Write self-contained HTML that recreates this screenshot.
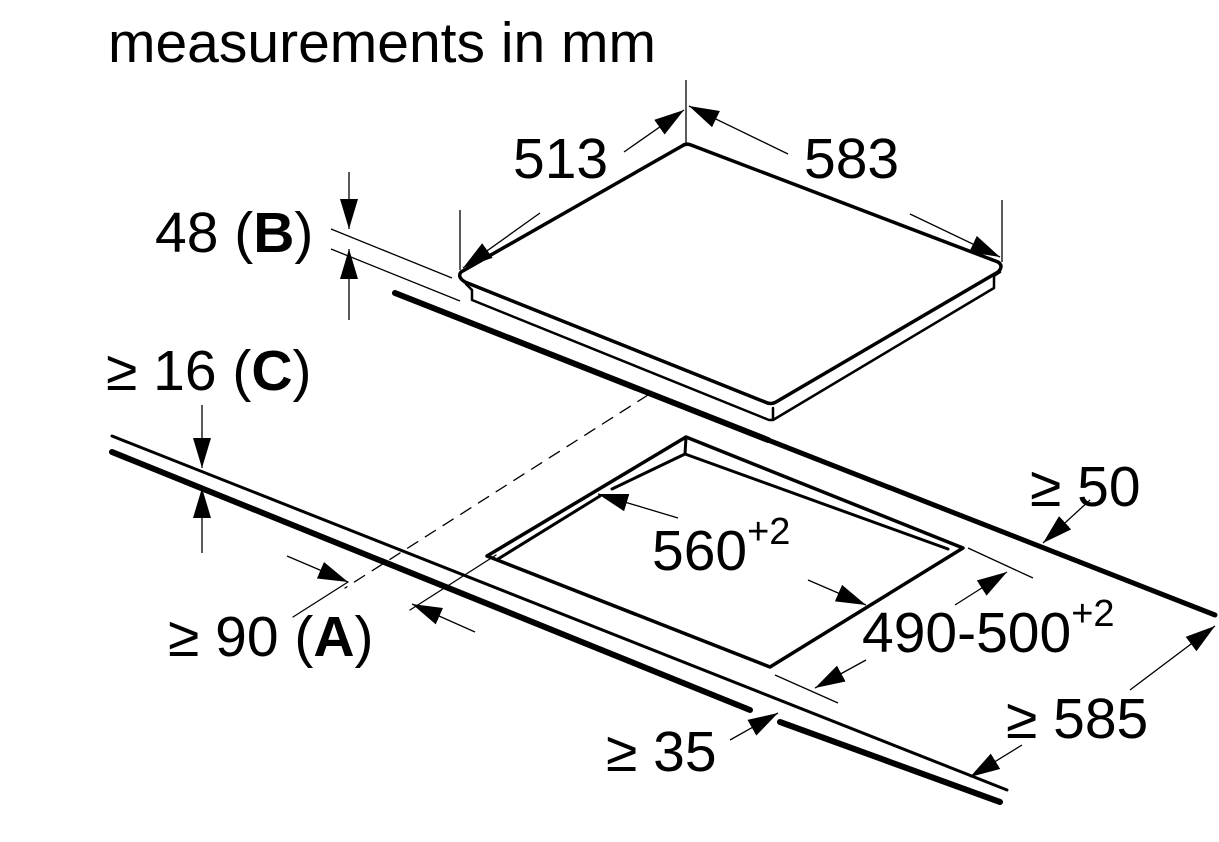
<!DOCTYPE html>
<html><head><style>
html,body{margin:0;padding:0;background:#fff;}
svg{display:block;}
text{font-family:"Liberation Sans",Arial,sans-serif;fill:#000;}
</style></head><body>
<svg width="1219" height="842" viewBox="0 0 1219 842" xmlns="http://www.w3.org/2000/svg">
<defs>
<marker id="a" viewBox="0 0 30 18" refX="30" refY="9" markerWidth="30" markerHeight="18" markerUnits="userSpaceOnUse" orient="auto">
<path d="M0,0 L30,9 L0,18 Z" fill="#000"/></marker>
</defs>
<g fill="none" stroke="#000" stroke-linecap="round" stroke-linejoin="round">
<path d="M461,272 L682,146 Q686,143 691,145 L998,262 Q1004,266 998,272 L776,402 Q771,405 765,402 L465,282 Q457,277 461,272 Z" stroke-width="3.5"/>
<path d="M466,284 L472,290 L472,300 L769,420 L773,420 L773,408 M773,420 L994,288 L994,276 L1000,272" stroke-width="2.5"/>
<path d="M395,293 L768,440" stroke-width="6"/>
<path d="M768,440 L1215,615" stroke-width="5"/>
<path d="M112,436 L1007,790" stroke-width="3"/>
<path d="M112,452 L750,710 M780,722 L1000,802" stroke-width="6"/>
<path d="M648,395 L345,588" stroke-width="1.3" stroke-dasharray="12,9"/>
<path d="M496,555 L410,610" stroke-width="1.3"/>
<path d="M348,582 L293,617" stroke-width="1.3"/>
<path d="M487,556 L686,437 L963,548 L770,667 Z" stroke-width="3.5"/>
<path d="M498,559 L600,496 M612,489 L685,454 L948,549 M686,437 L685,454" stroke-width="3"/>
</g>
<g stroke="#000" stroke-width="1.3" fill="none">
<line x1="686" y1="80" x2="686" y2="145"/>
<line x1="624" y1="152" x2="684" y2="110" marker-end="url(#a)"/>
<line x1="540" y1="213" x2="463" y2="268" marker-end="url(#a)" />
<line x1="460" y1="210" x2="460" y2="270"/>
<line x1="788" y1="154" x2="689" y2="106" marker-end="url(#a)"/>
<line x1="910" y1="214" x2="1000" y2="257" marker-end="url(#a)"/>
<line x1="1002" y1="200" x2="1002" y2="262"/>
<line x1="331" y1="229" x2="452" y2="278"/>
<line x1="331" y1="249" x2="460" y2="301"/>
<line x1="349" y1="172" x2="349" y2="229" marker-end="url(#a)"/>
<line x1="349" y1="320" x2="349" y2="249" marker-end="url(#a)"/>
<line x1="202" y1="405" x2="202" y2="468" marker-end="url(#a)"/>
<line x1="202" y1="553" x2="202" y2="488" marker-end="url(#a)"/>
<line x1="287" y1="556" x2="348" y2="582" marker-end="url(#a)"/>
<line x1="475" y1="632" x2="412" y2="604" marker-end="url(#a)"/>
<line x1="678" y1="518" x2="598" y2="494" marker-end="url(#a)"/>
<line x1="808" y1="580" x2="866" y2="605" marker-end="url(#a)"/>
<line x1="968" y1="548" x2="1033" y2="578"/>
<line x1="775" y1="675" x2="838" y2="703"/>
<line x1="955" y1="605" x2="1007" y2="572" marker-end="url(#a)" />
<line x1="866" y1="660" x2="815" y2="688" marker-end="url(#a)"/>
<line x1="1090" y1="500" x2="1043" y2="543" marker-end="url(#a)"/>
<line x1="1130" y1="690" x2="1215" y2="626" marker-end="url(#a)"/>
<line x1="1022" y1="745" x2="970" y2="777" marker-end="url(#a)"/>
<line x1="730" y1="740" x2="778" y2="713" marker-end="url(#a)"/>
</g>
<g font-size="57">
<text x="108" y="62" font-size="57">measurements in mm</text>
<text x="513" y="178">513</text>
<text x="804" y="178">583</text>
<text x="155" y="252">48 (<tspan font-weight="bold">B</tspan>)</text>
<text x="106" y="390">≥ 16 (<tspan font-weight="bold">C</tspan>)</text>
<text x="168" y="656">≥ 90 (<tspan font-weight="bold">A</tspan>)</text>
<text x="652" y="570">560<tspan font-size="38" dy="-26">+2</tspan></text>
<text x="862" y="652">490-500<tspan font-size="38" dy="-26">+2</tspan></text>
<text x="1030" y="506">≥ 50</text>
<text x="1006" y="738">≥ 585</text>
<text x="606" y="771">≥ 35</text>
</g>
</svg>
</body></html>
